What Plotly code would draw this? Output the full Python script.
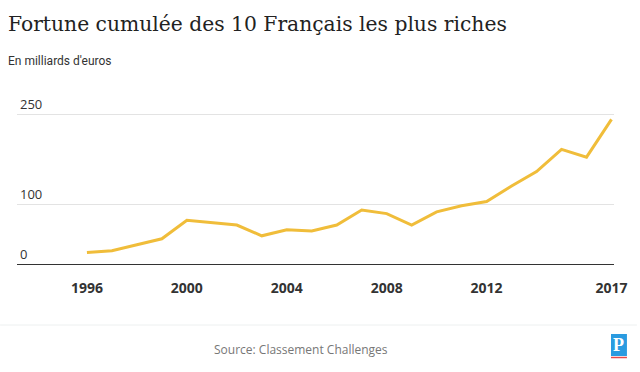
import plotly.graph_objects as go

years = list(range(1996, 2018))
fortune = [19, 22, 32, 42, 73, 69, 65, 47, 57, 55, 65, 90, 84, 65, 87, 97, 104, 130, 154, 191, 178, 241]
x_ticks = [1996, 2000, 2004, 2008, 2012, 2017]
y_ticks = [0, 100, 250]

title = "Fortune cumulée des 10 Français les plus riches"
subtitle = "En milliards d'euros"
source = "Source: Classement Challenges"

T = 93      # plot top (px)
B = 264     # plot bottom (px)
H = B - T

fig = go.Figure()
fig.add_trace(go.Scatter(x=years, y=fortune, mode="lines",
                         line=dict(color="#f0bd3a", width=3), hoverinfo="x+y"))

fig.update_layout(
    width=640, height=372,
    margin=dict(l=17, r=23, t=T, b=372 - B),
    paper_bgcolor="white", plot_bgcolor="white",
    showlegend=False,
    xaxis=dict(range=[1993.2, 2017.1], tickvals=x_ticks, ticktext=[str(v) for v in x_ticks],
               showgrid=False, zeroline=False, showline=False,
               tickfont=dict(family="Open Sans", size=14, color="#333333", weight="bold"),
               ticks="", ticklabelstandoff=14, fixedrange=True),
    yaxis=dict(range=[0, H / 0.6], tickvals=y_ticks, ticktext=[str(v) for v in y_ticks],
               showgrid=True, gridcolor="#e3e3e3", gridwidth=1,
               zeroline=True, zerolinecolor="#333333", zerolinewidth=1,
               ticklabelposition="inside top", ticks="",
               tickfont=dict(family="Open Sans", size=13, color="#333333"),
               fixedrange=True),
    font=dict(family="Open Sans"),
)

def py(pix):
    """paper y for a pixel row"""
    return (B - pix) / H

def px(pix):
    return (pix - 17) / 600

fig.add_annotation(text=title, xref="paper", yref="paper", x=px(6), xanchor="left",
                   y=py(24), yanchor="middle", showarrow=False,
                   font=dict(family="DejaVu Serif", size=20.3, color="#222222"))
fig.add_annotation(text=subtitle, xref="paper", yref="paper", x=px(6), xanchor="left",
                   y=py(61), yanchor="middle", showarrow=False,
                   font=dict(family="Roboto", size=12, color="#333333"))
fig.add_annotation(text=source, xref="paper", yref="paper", x=px(302), xanchor="center",
                   y=py(349), yanchor="middle", showarrow=False,
                   font=dict(family="Open Sans", size=12, color="#777777"))

# separator line
fig.add_shape(type="line", xref="paper", yref="paper", x0=px(0), x1=px(640),
              y0=py(325), y1=py(325), line=dict(color="#edf0f0", width=1))

# logo
fig.add_shape(type="rect", xref="paper", yref="paper",
              x0=px(614), x1=px(630), y0=py(356), y1=py(334),
              fillcolor="#2a9be0", line=dict(width=0))
fig.add_shape(type="line", xref="paper", yref="paper",
              x0=px(614), x1=px(630), y0=py(357.5), y1=py(357.5),
              line=dict(color="#e84a4a", width=1.5))
fig.add_annotation(text="<b>P</b>", xref="paper", yref="paper", x=px(622), xanchor="center",
                   y=py(345), yanchor="middle", showarrow=False,
                   font=dict(family="Liberation Serif", size=18, color="white"))

fig.write_html("out.html", config={"displayModeBar": False},
               post_script="document.body.style.margin='0px';")
